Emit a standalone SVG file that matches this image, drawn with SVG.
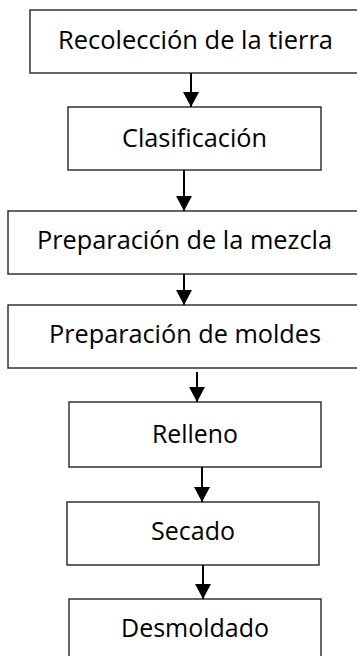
<svg xmlns="http://www.w3.org/2000/svg" width="357" height="656" viewBox="0 0 357 656">
<style>
.box{fill:#fff;stroke:#262626;stroke-width:1.4}
.lbl{font-family:"Open Sans","Liberation Sans",sans-serif;font-size:25.5px;fill:#000;text-anchor:middle}
.conn{stroke:#000;stroke-width:2;fill:none;marker-end:url(#ah)}
</style>
<defs>
<marker id="ah" markerUnits="userSpaceOnUse" markerWidth="17" markerHeight="17" refX="15" refY="8" orient="auto">
<path d="M0,0 L15,8 L0,16 Z" fill="#000"/>
</marker>
</defs>
<rect width="357" height="656" fill="#fff"/>
<g id="n1"><rect class="box" x="30" y="10" width="331" height="63"/><text class="lbl" x="195.5" y="49" textLength="275" lengthAdjust="spacingAndGlyphs">Recolección de la tierra</text></g>
<g id="n2"><rect class="box" x="68" y="107" width="253" height="63"/><text class="lbl" x="194.5" y="147" textLength="145" lengthAdjust="spacingAndGlyphs">Clasificación</text></g>
<g id="n3"><rect class="box" x="8" y="211" width="353" height="63"/><text class="lbl" x="184.5" y="249" textLength="295" lengthAdjust="spacingAndGlyphs">Preparación de la mezcla</text></g>
<g id="n4"><rect class="box" x="8" y="305" width="353" height="63"/><text class="lbl" x="185" y="343" textLength="272" lengthAdjust="spacingAndGlyphs">Preparación de moldes</text></g>
<g id="n5"><rect class="box" x="69" y="402" width="252" height="65"/><text class="lbl" x="195" y="443" textLength="86" lengthAdjust="spacingAndGlyphs">Relleno</text></g>
<g id="n6"><rect class="box" x="67" y="502" width="252" height="63"/><text class="lbl" x="193" y="540" textLength="84" lengthAdjust="spacingAndGlyphs">Secado</text></g>
<g id="n7"><rect class="box" x="69" y="599" width="252" height="70"/><text class="lbl" x="195" y="637" textLength="148" lengthAdjust="spacingAndGlyphs">Desmoldado</text></g>
<g id="connectors">
<line class="conn" x1="191" y1="73" x2="191" y2="107"/>
<line class="conn" x1="184" y1="170" x2="184" y2="211"/>
<line class="conn" x1="184" y1="274" x2="184" y2="305"/>
<line class="conn" x1="197" y1="372" x2="197" y2="402"/>
<line class="conn" x1="202" y1="467" x2="202" y2="502"/>
<line class="conn" x1="203" y1="565" x2="203" y2="599"/>
</g>
</svg>
